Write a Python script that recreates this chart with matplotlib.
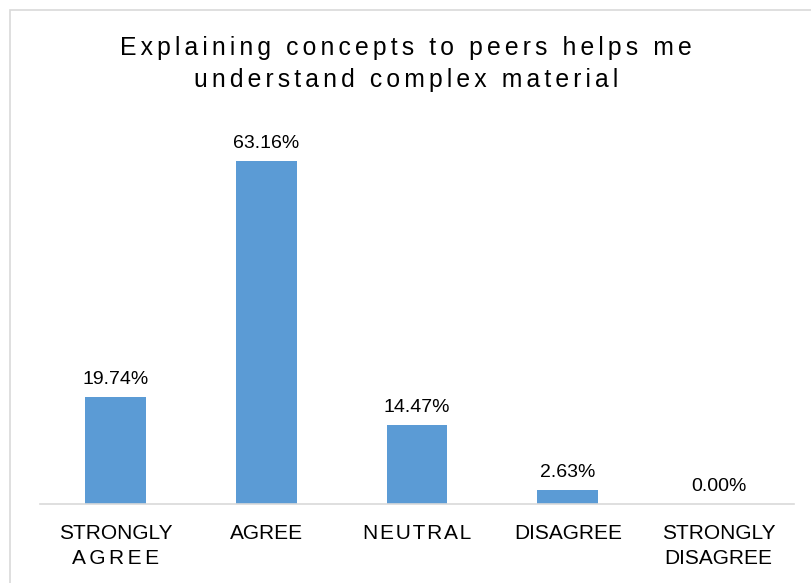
import matplotlib.pyplot as plt
from matplotlib.patches import Rectangle

SP = "\u2006"  # six-per-em space, used as letter spacing
HAIR = "\u200a"


def spaced(s, gap=SP):
    return "\n".join(gap.join(line) for line in s.split("\n"))


categories = ["STRONGLY\n" + spaced("AGREE"), "AGREE", spaced("NEUTRAL", HAIR), "DISAGREE",
              "STRONGLY\nDISAGREE"]
values = [19.74, 63.16, 14.47, 2.63, 0.00]
title = "Explaining concepts to peers helps me\nunderstand complex material"

plt.rcParams["font.family"] = ["Liberation Sans", "DejaVu Sans"]

W, H = 812, 583
fig = plt.figure(figsize=(W / 100, H / 100), dpi=100)

# axes placed in pixel terms
left, right, bottom_px, top_px = 40, 794, 504, 124
ax = fig.add_axes([left / W, 1 - bottom_px / H, (right - left) / W, (bottom_px - top_px) / H])

x = list(range(len(categories)))
ax.bar(x, values, width=0.404, color="#5B9BD5")
ax.set_xlim(-0.5, len(categories) - 0.5)
ax.set_ylim(0, 70)

for xi, v in zip(x, values):
    ax.annotate(f"{v:.2f}%", (xi, v), xytext=(0, 6.5), textcoords="offset points",
                ha="center", va="bottom", fontsize=14, color="#000000")

ax.set_xticks(x)
ax.set_xticklabels(categories, fontsize=15, color="#000000", linespacing=1.4)
ax.tick_params(axis="x", length=0, pad=14.5)
ax.set_yticks([])
for s in ["top", "right", "left"]:
    ax.spines[s].set_visible(False)
ax.spines["bottom"].set_color("#D9D9D9")
ax.spines["bottom"].set_linewidth(1.2)

fig.text(0.5, 1 - 64 / H, spaced(title), ha="center", va="center", fontsize=17.8,
         color="#000000", linespacing=1.38)

# chart area border
fig.patches.append(Rectangle((10 / W, -0.1), 1.2, 1 - 10 / H + 0.1, transform=fig.transFigure,
                             fill=False, edgecolor="#D9D9D9", linewidth=1.2))

fig.savefig("out.png", dpi=100)
